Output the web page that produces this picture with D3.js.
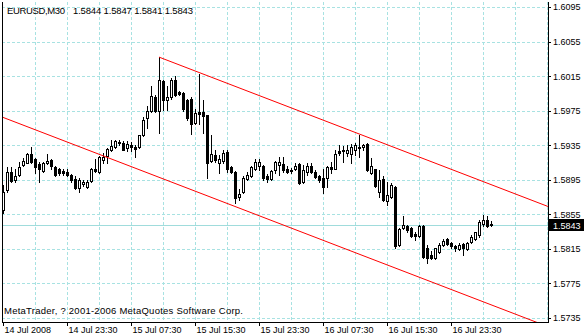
<!DOCTYPE html>
<html>
<head>
<meta charset="utf-8">
<script src="https://cdn.jsdelivr.net/npm/d3@7"></script>
<style>
  html, body { margin: 0; padding: 0; background: #fff; }
  svg { display: block; font-family: "Liberation Sans", Arial, sans-serif; }
</style>
</head>
<body>
<div id="chart"></div>
<script>
const symbol = "EURUSD,M30";
const copyright = "MetaTrader, ? 2001-2006 MetaQuotes Software Corp.";

// M30 bars, 14 Jul 2008 15:30 onwards
const opens = [
  1.5860, 1.5883, 1.5904, 1.5895, 1.5900, 1.5912, 1.5915, 1.5925, 1.5919, 1.5913,
  1.5905, 1.5914, 1.5918, 1.5910, 1.5907, 1.5905, 1.5904, 1.5901, 1.5896, 1.5885,
  1.5890, 1.5887, 1.5894, 1.5907, 1.5904, 1.5918, 1.5923, 1.5929, 1.5933, 1.5939,
  1.5938, 1.5932, 1.5935, 1.5933, 1.5933, 1.5947, 1.5966, 1.5975, 1.5991, 1.5975,
  1.6009, 1.5987, 1.5991, 1.6011, 1.5997, 1.5995, 1.5987, 1.5989, 1.5961, 1.5973,
  1.5974, 1.5970, 1.5917, 1.5924, 1.5914, 1.5917, 1.5927, 1.5910, 1.5904, 1.5875,
  1.5881, 1.5896, 1.5899, 1.5907, 1.5911, 1.5911, 1.5899, 1.5896, 1.5906, 1.5912,
  1.5913, 1.5908, 1.5906, 1.5908, 1.5913, 1.5892, 1.5904, 1.5911, 1.5904, 1.5899,
  1.5897, 1.5897, 1.5910, 1.5908, 1.5928, 1.5928, 1.5926, 1.5925, 1.5930, 1.5932,
  1.5933, 1.5936, 1.5903, 1.5907, 1.5881, 1.5896, 1.5870, 1.5875, 1.5887, 1.5820,
  1.5839, 1.5841, 1.5839, 1.5832, 1.5830, 1.5841, 1.5816, 1.5808, 1.5804, 1.5811,
  1.5820, 1.5826, 1.5822, 1.5818, 1.5815, 1.5821, 1.5815, 1.5823, 1.5826, 1.5831,
  1.5844, 1.5849, 1.5844
];
const highs = [
  1.5889, 1.5910, 1.5910, 1.5908, 1.5916, 1.5920, 1.5926, 1.5933, 1.5920, 1.5916,
  1.5916, 1.5925, 1.5919, 1.5911, 1.5909, 1.5908, 1.5907, 1.5902, 1.5899, 1.5897,
  1.5895, 1.5895, 1.5909, 1.5919, 1.5923, 1.5926, 1.5932, 1.5941, 1.5941, 1.5941,
  1.5940, 1.5940, 1.5939, 1.5935, 1.5947, 1.5968, 1.5980, 1.6003, 1.5993, 1.6037,
  1.6010, 1.6004, 1.6013, 1.6015, 1.5998, 1.5997, 1.5988, 1.5991, 1.5977, 1.6017,
  1.5987, 1.5970, 1.5947, 1.5930, 1.5924, 1.5930, 1.5930, 1.5911, 1.5905, 1.5884,
  1.5899, 1.5904, 1.5911, 1.5919, 1.5919, 1.5912, 1.5902, 1.5906, 1.5917, 1.5921,
  1.5921, 1.5911, 1.5909, 1.5914, 1.5914, 1.5912, 1.5914, 1.5914, 1.5906, 1.5901,
  1.5907, 1.5911, 1.5916, 1.5930, 1.5935, 1.5934, 1.5935, 1.5936, 1.5937, 1.5947,
  1.5936, 1.5937, 1.5920, 1.5908, 1.5906, 1.5899, 1.5892, 1.5891, 1.5888, 1.5839,
  1.5853, 1.5843, 1.5840, 1.5835, 1.5843, 1.5843, 1.5820, 1.5812, 1.5816, 1.5822,
  1.5826, 1.5828, 1.5823, 1.5820, 1.5822, 1.5822, 1.5823, 1.5831, 1.5835, 1.5848,
  1.5854, 1.5853, 1.5847
];
const lows = [
  1.5856, 1.5881, 1.5892, 1.5893, 1.5899, 1.5911, 1.5914, 1.5915, 1.5903, 1.5893,
  1.5904, 1.5913, 1.5908, 1.5899, 1.5901, 1.5901, 1.5899, 1.5892, 1.5884, 1.5881,
  1.5888, 1.5886, 1.5893, 1.5904, 1.5903, 1.5914, 1.5914, 1.5928, 1.5932, 1.5935,
  1.5929, 1.5928, 1.5928, 1.5921, 1.5932, 1.5946, 1.5955, 1.5974, 1.5974, 1.5949,
  1.5976, 1.5976, 1.5989, 1.5992, 1.5993, 1.5975, 1.5964, 1.5948, 1.5960, 1.5960,
  1.5949, 1.5897, 1.5916, 1.5916, 1.5903, 1.5915, 1.5904, 1.5903, 1.5868, 1.5872,
  1.5880, 1.5895, 1.5898, 1.5906, 1.5906, 1.5895, 1.5893, 1.5895, 1.5903, 1.5901,
  1.5904, 1.5903, 1.5903, 1.5906, 1.5890, 1.5891, 1.5901, 1.5903, 1.5897, 1.5892,
  1.5880, 1.5887, 1.5903, 1.5907, 1.5924, 1.5916, 1.5922, 1.5915, 1.5924, 1.5921,
  1.5930, 1.5905, 1.5902, 1.5887, 1.5875, 1.5870, 1.5866, 1.5874, 1.5816, 1.5818,
  1.5838, 1.5835, 1.5829, 1.5825, 1.5829, 1.5805, 1.5799, 1.5803, 1.5803, 1.5810,
  1.5818, 1.5820, 1.5816, 1.5812, 1.5814, 1.5808, 1.5814, 1.5822, 1.5825, 1.5829,
  1.5842, 1.5840, 1.5841
];
const closes = [
  1.5881, 1.5904, 1.5894, 1.5899, 1.5910, 1.5917, 1.5925, 1.5916, 1.5910, 1.5907,
  1.5915, 1.5917, 1.5911, 1.5901, 1.5903, 1.5903, 1.5901, 1.5895, 1.5886, 1.5895,
  1.5893, 1.5893, 1.5908, 1.5905, 1.5921, 1.5921, 1.5931, 1.5934, 1.5940, 1.5937,
  1.5930, 1.5936, 1.5933, 1.5931, 1.5947, 1.5964, 1.5975, 1.5992, 1.5975, 1.6010,
  1.5987, 1.5991, 1.6011, 1.5993, 1.5994, 1.5977, 1.5966, 1.5960, 1.5972, 1.5971,
  1.5969, 1.5915, 1.5925, 1.5918, 1.5919, 1.5926, 1.5908, 1.5904, 1.5874, 1.5879,
  1.5897, 1.5901, 1.5910, 1.5916, 1.5916, 1.5897, 1.5896, 1.5905, 1.5916, 1.5916,
  1.5906, 1.5904, 1.5905, 1.5911, 1.5891, 1.5906, 1.5911, 1.5904, 1.5898, 1.5895,
  1.5887, 1.5910, 1.5907, 1.5925, 1.5926, 1.5930, 1.5930, 1.5933, 1.5935, 1.5933,
  1.5935, 1.5906, 1.5911, 1.5888, 1.5895, 1.5872, 1.5877, 1.5889, 1.5818, 1.5838,
  1.5843, 1.5837, 1.5830, 1.5830, 1.5841, 1.5806, 1.5804, 1.5805, 1.5816, 1.5820,
  1.5824, 1.5821, 1.5818, 1.5816, 1.5820, 1.5816, 1.5822, 1.5829, 1.5834, 1.5846,
  1.5849, 1.5841, 1.5843
];

const priceTicks = [1.6095, 1.6055, 1.6015, 1.5975, 1.5935, 1.5895, 1.5855, 1.5815, 1.5775, 1.5735];
const timeTickBars = [0, 16, 32, 48, 64, 80, 96, 112];
const timeLabels = ["14 Jul 2008", "14 Jul 23:30", "15 Jul 07:30", "15 Jul 15:30",
                    "15 Jul 23:30", "16 Jul 07:30", "16 Jul 15:30", "16 Jul 23:30"];
const gridStep = 8; // bars between vertical grid lines

// equidistant channel: slope per bar, anchor [bar, price]
const channelSlope = -0.0001778;
const upperAnchor = [39, 1.6037];
const lowerAnchor = [-1, 1.5969];

const W = 584, H = 336;
const plot = { left: 2, right: 548, top: 2, bottom: 322 };
const gridColor = "#a8e2e2";

const bars = opens.map((o, i) => ({ i, o, h: highs[i], l: lows[i], c: closes[i] }));
const last = bars[bars.length - 1];

const x = d3.scaleLinear().domain([0, 136.25]).range([3, 548]);
const y = d3.scaleLinear().domain([1.5735, 1.6095]).range([318, 7]);
const px = v => Math.round(v) + 0.5;

const svg = d3.select("#chart").append("svg")
  .attr("width", W).attr("height", H)
  .attr("viewBox", `0 0 ${W} ${H}`);

svg.append("defs").append("clipPath").attr("id", "plotclip")
  .append("rect")
  .attr("x", plot.left).attr("y", plot.top)
  .attr("width", plot.right - plot.left).attr("height", plot.bottom - plot.top);

// grid
const grid = svg.append("g")
  .attr("stroke", gridColor).attr("stroke-dasharray", "3,2")
  .attr("shape-rendering", "crispEdges");

grid.selectAll("line.h").data(priceTicks).join("line")
  .attr("class", "h")
  .attr("x1", plot.left).attr("x2", plot.right)
  .attr("y1", d => px(y(d))).attr("y2", d => px(y(d)));

grid.selectAll("line.v").data(d3.range(gridStep, 137, gridStep)).join("line")
  .attr("class", "v")
  .attr("x1", d => px(x(d))).attr("x2", d => px(x(d)))
  .attr("y1", plot.top).attr("y2", plot.bottom);

// bid line
svg.append("line")
  .attr("x1", plot.left).attr("x2", plot.right)
  .attr("y1", px(y(last.c))).attr("y2", px(y(last.c)))
  .attr("stroke", "#a0dcdc")
  .attr("shape-rendering", "crispEdges");

// candles
const candles = svg.append("g").attr("shape-rendering", "crispEdges");

candles.selectAll("line.wick").data(bars).join("line")
  .attr("class", "wick")
  .attr("x1", d => x(d.i) + 0.5).attr("x2", d => x(d.i) + 0.5)
  .attr("y1", d => px(y(d.h)) - 0.5).attr("y2", d => px(y(d.l)) + 0.5)
  .attr("stroke", "#000");

candles.selectAll("rect.body").data(bars).join("rect")
  .attr("class", "body")
  .each(function (d) {
    const top = px(y(Math.max(d.o, d.c)));
    const bot = px(y(Math.min(d.o, d.c)));
    const r = d3.select(this);
    if (d.c >= d.o) {
      r.attr("x", x(d.i) - 0.5).attr("width", 2)
        .attr("y", top).attr("height", bot - top)
        .attr("fill", "#fff").attr("stroke", "#000");
    } else {
      r.attr("x", x(d.i) - 1).attr("width", 3)
        .attr("y", top - 0.5).attr("height", bot - top + 1)
        .attr("fill", "#000");
    }
  });

// channel
const channel = svg.append("g").attr("clip-path", "url(#plotclip)")
  .attr("fill", "none").attr("stroke", "#ff0000").attr("stroke-width", 1);

const chLine = d3.line()
  .x(d => x(d[0]))
  .y(d => y(d[1]));

[upperAnchor, lowerAnchor].forEach(a => {
  const end = 140;
  channel.append("path")
    .attr("d", chLine([a, [end, a[1] + channelSlope * (end - a[0])]]));
});

// frame
const frame = svg.append("g").attr("stroke", "#000").attr("shape-rendering", "crispEdges");
frame.append("line").attr("x1", plot.left + 0.5).attr("x2", plot.left + 0.5)
  .attr("y1", plot.top).attr("y2", plot.bottom + 1);
frame.append("line").attr("x1", plot.right + 0.5).attr("x2", plot.right + 0.5)
  .attr("y1", plot.top).attr("y2", plot.bottom + 1);
frame.append("line").attr("x1", plot.left).attr("x2", plot.right + 1)
  .attr("y1", plot.bottom + 0.5).attr("y2", plot.bottom + 0.5);

// right price axis
const yAxis = svg.append("g")
  .attr("transform", `translate(${plot.right},0)`)
  .call(d3.axisRight(y).tickValues(priceTicks).tickFormat(d3.format(".4f"))
    .tickSize(3).tickPadding(2));
yAxis.select(".domain").remove();
yAxis.attr("font-family", null).attr("font-size", 9);
yAxis.selectAll("line").attr("shape-rendering", "crispEdges");

// bottom time axis
const xAxis = svg.append("g")
  .attr("transform", `translate(0,${plot.bottom})`)
  .call(d3.axisBottom(x).tickValues(timeTickBars).tickFormat((d, i) => timeLabels[i])
    .tickSize(4).tickPadding(1));
xAxis.select(".domain").remove();
xAxis.attr("font-family", null).attr("font-size", 9).attr("text-anchor", "start");
xAxis.selectAll("text").attr("x", 1);
xAxis.selectAll("line").attr("shape-rendering", "crispEdges");

// last price box
const ly = px(y(last.c));
svg.append("rect")
  .attr("x", plot.right + 1).attr("y", ly - 6.5)
  .attr("width", W - plot.right - 1).attr("height", 12)
  .attr("fill", "#000");
svg.append("text")
  .attr("x", plot.right + 5).attr("y", ly + 3)
  .attr("font-size", 9).attr("fill", "#fff")
  .text(d3.format(".4f")(last.c));

// captions
const f4 = d3.format(".4f");
svg.append("text").attr("x", 7).attr("y", 14).attr("font-size", 9.5)
  .attr("textLength", 58).attr("lengthAdjust", "spacing")
  .text(symbol);
svg.append("text").attr("x", 73).attr("y", 14).attr("font-size", 9.5)
  .attr("textLength", 120).attr("lengthAdjust", "spacing")
  .text([last.o, last.h, last.l, last.c].map(f4).join(" "));
svg.append("text").attr("x", 4).attr("y", 314).attr("font-size", 9.5)
  .attr("textLength", 239).attr("lengthAdjust", "spacing")
  .text(copyright);
</script>
</body>
</html>
